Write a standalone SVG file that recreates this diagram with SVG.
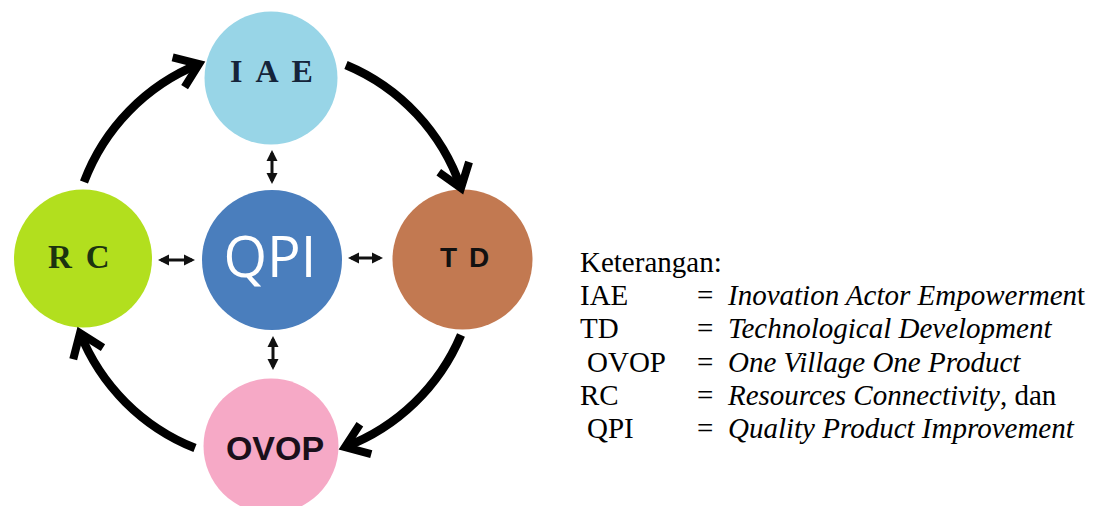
<svg xmlns="http://www.w3.org/2000/svg" width="1093" height="506" viewBox="0 0 1093 506">
  <style>
    .cycle { fill: none; stroke: #000; stroke-width: 8.5; marker-end: url(#chevron); }
    .link { fill: none; stroke: #111; stroke-width: 3; marker-start: url(#tri); marker-end: url(#tri); }
    .serifLbl { font-family: "Liberation Serif", "Times New Roman", serif; font-weight: bold; }
    .sansLbl { font-family: "Liberation Sans", Arial, sans-serif; font-weight: bold; }
    .legend { font-family: "Liberation Serif", "Times New Roman", serif; font-size: 29px; fill: #000; }
    .it { font-style: italic; }
  </style>
  <defs>
    <!-- open chevron head for the cycle arrows -->
    <marker id="chevron" markerUnits="userSpaceOnUse" viewBox="-34 -24 42 48" markerWidth="42" markerHeight="48" refX="0" refY="0" orient="auto" overflow="visible">
      <path d="M -22 -16 L 0 0 L -22 16" fill="none" stroke="#000" stroke-width="8"/>
    </marker>
    <!-- small filled head for the two-way links -->
    <marker id="tri" markerUnits="userSpaceOnUse" viewBox="-10 -7 14 14" markerWidth="14" markerHeight="14" refX="0" refY="0" orient="auto-start-reverse" overflow="visible">
      <path d="M 3 0 L -8 -5.5 L -8 5.5 Z" fill="#111"/>
    </marker>
  </defs>

  <rect x="0" y="0" width="1093" height="506" fill="#fff"/>

  <!-- nodes -->
  <g id="node-iae">
    <circle cx="271" cy="78" r="66.5" fill="#98d5e7"/>
    <text class="serifLbl" x="230" y="82" font-size="32" letter-spacing="13" fill="#15243a">IAE</text>
  </g>
  <g id="node-rc">
    <circle cx="83" cy="258.5" r="69" fill="#b2df1e"/>
    <text class="serifLbl" x="48" y="268" font-size="33" letter-spacing="14" fill="#1c3310">RC</text>
  </g>
  <g id="node-qpi">
    <circle cx="272" cy="260" r="70" fill="#4a7ebd"/>
    <text x="270" y="277" font-family="'Open Sans', 'Noto Sans', sans-serif" font-size="56" fill="#fff" text-anchor="middle">QPI</text>
  </g>
  <g id="node-td">
    <circle cx="462.5" cy="259.5" r="70" fill="#c27951"/>
    <text class="sansLbl" x="440" y="267" font-size="28" letter-spacing="12" fill="#111">TD</text>
  </g>
  <g id="node-ovop">
    <circle cx="271" cy="446" r="67.5" fill="#f6a9c6"/>
    <text class="sansLbl" x="275" y="460" font-size="34" text-anchor="middle" fill="#1a0f1a">OVOP</text>
  </g>

  <!-- connectors -->
  <g id="connectors">
    <path class="cycle" d="M 84 182 A 205 205 0 0 1 199 64"/>
    <path class="cycle" d="M 346 65 A 205 205 0 0 1 461 188"/>
    <path class="cycle" d="M 461 335 A 205 205 0 0 1 345 447"/>
    <path class="cycle" d="M 195 448 A 205 205 0 0 1 80 333"/>

    <line class="link" x1="272" y1="153" x2="272" y2="181"/>
    <line class="link" x1="273" y1="339" x2="273" y2="367"/>
    <line class="link" x1="161" y1="260" x2="192" y2="260"/>
    <line class="link" x1="351" y1="258" x2="380" y2="258"/>
  </g>

  <!-- legend -->
  <g id="legend" class="legend">
    <text x="580" y="272">Keterangan:</text>
    <text y="305"><tspan x="580">IAE</tspan><tspan x="697">=</tspan><tspan x="728" class="it">Inovation Actor Empowermen</tspan><tspan>t</tspan></text>
    <text y="338"><tspan x="580">TD</tspan><tspan x="697">=</tspan><tspan x="728" class="it">Technological Development</tspan></text>
    <text y="371.5"><tspan x="587">OVOP</tspan><tspan x="697">=</tspan><tspan x="728" class="it">One Village One Product</tspan></text>
    <text y="404.5"><tspan x="580">RC</tspan><tspan x="697">=</tspan><tspan x="728" class="it">Resources Connectivity</tspan><tspan>, dan</tspan></text>
    <text y="437.5"><tspan x="587">QPI</tspan><tspan x="697">=</tspan><tspan x="728" class="it">Quality Product Improvement</tspan></text>
  </g>
</svg>
